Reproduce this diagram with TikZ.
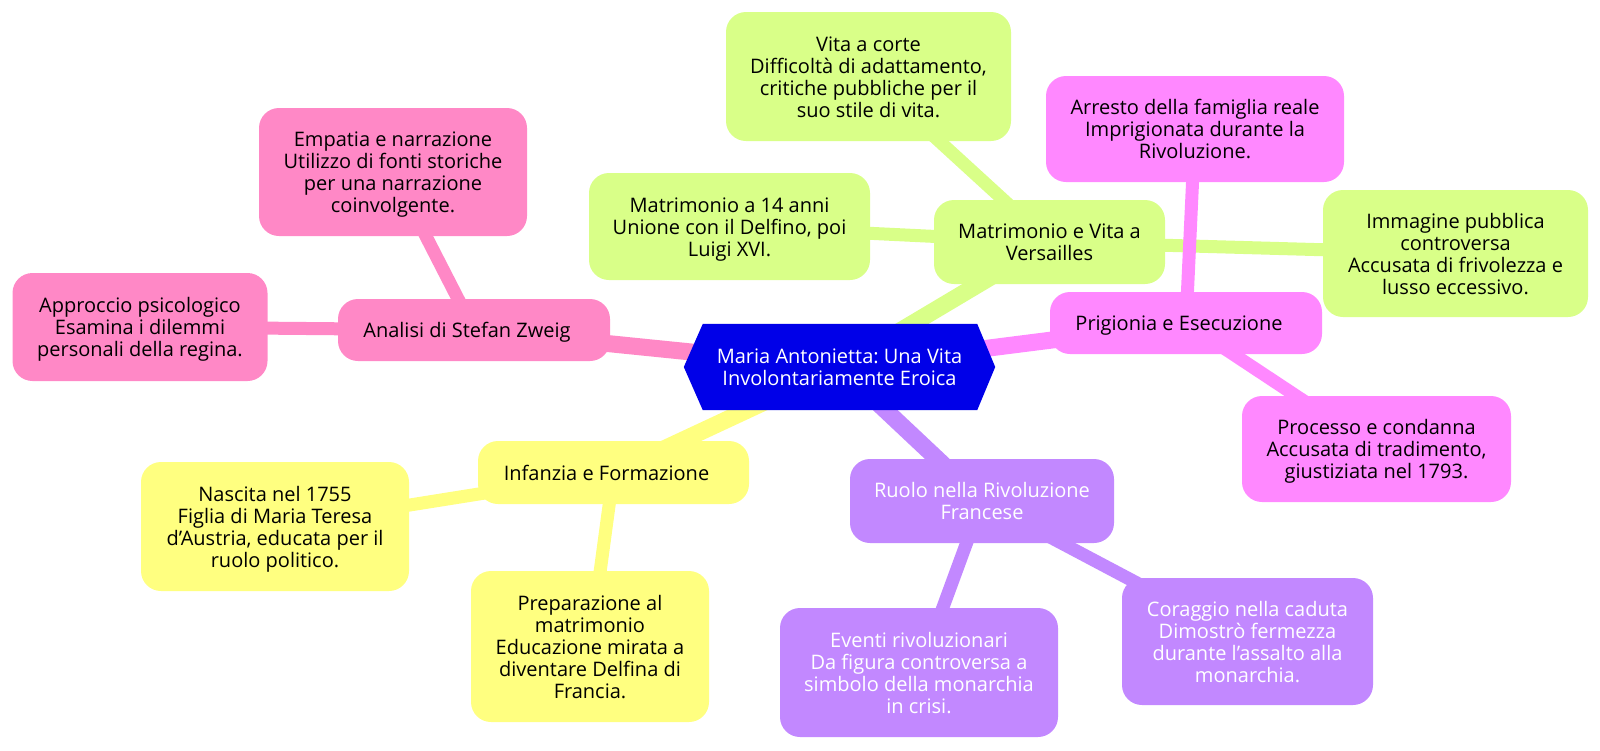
\documentclass[tikz,border=0pt]{standalone}
\usepackage{fontspec}
\setmainfont{Open Sans}
\frenchspacing
\usetikzlibrary{backgrounds}
\definecolor{cpink}{HTML}{FF88C6}
\definecolor{cgreen}{HTML}{D9FF88}
\definecolor{cmag}{HTML}{FF88FF}
\definecolor{cpurple}{HTML}{C288FF}
\definecolor{cyellow}{HTML}{FFFF80}
\definecolor{croot}{HTML}{0000E8}
\tikzset{
  mbox/.style={rounded corners=20pt, inner sep=0pt, align=center, text=black,
    font=\fontsize{20}{22}\selectfont, text depth=3.2pt},
  one/.style={text height=18.8pt},
  two/.style={text height=40.8pt},
  three/.style={text height=62.8pt},
  four/.style={text height=84.8pt},
  five/.style={text height=106.8pt},
  rootedge/.style={line width=17pt},
  leafedge/.style={line width=13pt},
}
\begin{document}
\begin{tikzpicture}[x=1pt,y=-1pt]
\path[use as bounding box] (0,0) rectangle (1600,750);
% root
\node[inner sep=0pt, minimum width=311pt, minimum height=86pt, align=center, text=white,
  font=\fontsize{20}{22}\selectfont, text depth=3.2pt, two] (root) at (839.5,367) {Maria Antonietta: Una Vita\\Involontariamente Eroica};
% Infanzia
\node[mbox, one, fill=cyellow, minimum width=271pt, minimum height=63pt] (infanzia) at (613.5,472.5) {Infanzia e Formazione\hspace*{14pt}};
\node[mbox, four, fill=cyellow, minimum width=268pt, minimum height=129pt] (nascita) at (275,526.5) {Nascita nel 1755\\Figlia di Maria Teresa\\d’Austria, educata per il\\ruolo politico.};
\node[mbox, five, fill=cyellow, minimum width=238pt, minimum height=151pt] (prep) at (590,646.5) {Preparazione al\\matrimonio\\Educazione mirata a\\diventare Delfina di\\Francia.};
% Matrimonio
\node[mbox, two, fill=cgreen, minimum width=231pt, minimum height=84pt] (matr) at (1049.5,242) {Matrimonio e Vita a\\Versailles};
\node[mbox, four, fill=cgreen, minimum width=285pt, minimum height=129pt] (vita) at (868.5,76.5) {Vita a corte\\Difficoltà di adattamento,\\critiche pubbliche per il\\suo stile di vita.};
\node[mbox, three, fill=cgreen, minimum width=281pt, minimum height=107pt] (m14) at (729.5,226.5) {Matrimonio a 14 anni\\Unione con il Delfino, poi\\Luigi XVI.};
\node[mbox, four, fill=cgreen, minimum width=265pt, minimum height=127pt] (immagine) at (1455.5,253.5) {Immagine pubblica\\controversa\\Accusata di frivolezza e\\lusso eccessivo.};
% Ruolo
\node[mbox, two, fill=cpurple, text=white, minimum width=264pt, minimum height=84pt] (ruolo) at (982,501) {Ruolo nella Rivoluzione\\Francese};
\node[mbox, four, fill=cpurple, text=white, minimum width=278pt, minimum height=129pt] (eventi) at (919,672.5) {Eventi rivoluzionari\\Da figura controversa a\\simbolo della monarchia\\in crisi.};
\node[mbox, four, fill=cpurple, text=white, minimum width=251pt, minimum height=127pt] (coraggio) at (1247.5,641.5) {Coraggio nella caduta\\Dimostrò fermezza\\durante l’assalto alla\\monarchia.};
% Prigionia
\node[mbox, one, fill=cmag, minimum width=272pt, minimum height=62pt] (prig) at (1186,323) {Prigionia e Esecuzione\hspace*{14pt}};
\node[mbox, three, fill=cmag, minimum width=298pt, minimum height=106pt] (arresto) at (1195,129) {Arresto della famiglia reale\\Imprigionata durante la\\Rivoluzione.};
\node[mbox, three, fill=cmag, minimum width=269pt, minimum height=106pt] (processo) at (1376.5,449) {Processo e condanna\\Accusata di tradimento,\\giustiziata nel 1793.};
% Analisi
\node[mbox, one, fill=cpink, minimum width=272pt, minimum height=62pt] (analisi) at (474,330) {Analisi di Stefan Zweig\hspace*{14pt}};
\node[mbox, four, fill=cpink, minimum width=268pt, minimum height=128pt] (empatia) at (393,172) {Empatia e narrazione\\Utilizzo di fonti storiche\\per una narrazione\\coinvolgente.};
\node[mbox, three, fill=cpink, minimum width=255pt, minimum height=108pt] (approccio) at (140,327) {Approccio psicologico\\Esamina i dilemmi\\personali della regina.};
\begin{scope}[on background layer]
  \draw[rootedge, cyellow] (root.center) -- (infanzia.center);
  \draw[leafedge, cyellow] (infanzia.center) -- (nascita.center);
  \draw[leafedge, cyellow] (infanzia.center) -- (prep.center);
  \draw[rootedge, cgreen] (root.center) -- (matr.center);
  \draw[leafedge, cgreen] (matr.center) -- (vita.center);
  \draw[leafedge, cgreen] (matr.center) -- (m14.center);
  \draw[leafedge, cgreen] (matr.center) -- (immagine.center);
  \draw[rootedge, cpurple] (root.center) -- (ruolo.center);
  \draw[leafedge, cpurple] (ruolo.center) -- (eventi.center);
  \draw[leafedge, cpurple] (ruolo.center) -- (coraggio.center);
  \draw[rootedge, cmag] (root.center) -- (prig.center);
  \draw[leafedge, cmag] (prig.center) -- (arresto.center);
  \draw[leafedge, cmag] (prig.center) -- (processo.center);
  \draw[rootedge, cpink] (root.center) -- (analisi.center);
  \draw[leafedge, cpink] (analisi.center) -- (empatia.center);
  \draw[leafedge, cpink] (analisi.center) -- (approccio.center);
  \fill[croot] (root.west) -- ([xshift=19pt]root.north west) -- ([xshift=-18pt]root.north east)
    -- (root.east) -- ([xshift=-18pt]root.south east) -- ([xshift=19pt]root.south west) -- cycle;
\end{scope}
\end{tikzpicture}
\end{document}
